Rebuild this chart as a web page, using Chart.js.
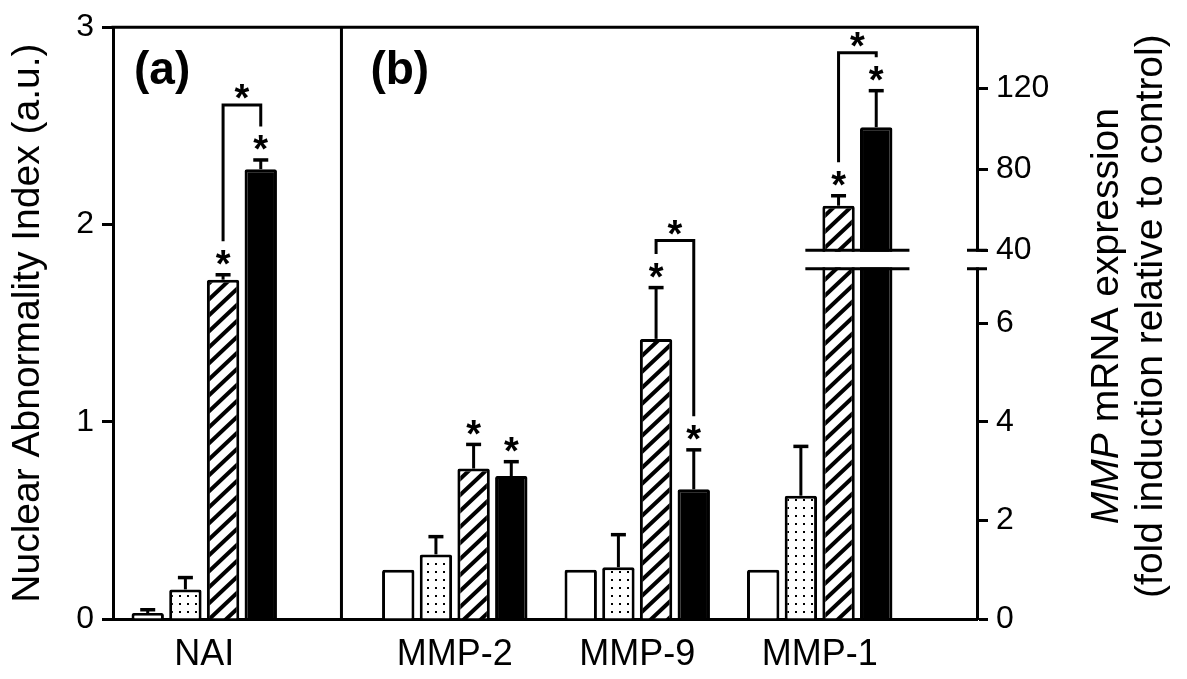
<!DOCTYPE html>
<html>
<head>
<meta charset="utf-8">
<script src="https://cdn.jsdelivr.net/npm/chart.js@4.4.1/dist/chart.umd.min.js"></script>
<style>
  html, body { margin: 0; background: #fff; }
  #caixa { width: 1187px; height: 679px; }
</style>
</head>
<body>
<div id="caixa"><canvas id="grafico"></canvas></div>
<script>
// ---- dados ----
const categories = ['NAI', 'MMP-2', 'MMP-9', 'MMP-1'];
const seriesNames = ['Control', 'Treatment 1', 'Treatment 2', 'Treatment 3'];
// NAI em u.a. (eixo esquerdo), MMPs em fold induction (eixo direito)
const controlMean = [0.03, 1, 1, 1];
const controlErr  = [0.017, 0, 0, 0];
const dotMean     = [0.15, 1.31, 1.05, 2.5];
const dotErr      = [0.06, 0.36, 0.66, 1.0];
const hatchMean   = [1.72, 3.05, 5.68, 62];
const hatchErr    = [0.025, 0.49, 1.04, 4.9];
const blackMean   = [2.28, 2.9, 2.63, 100.7];
const blackErr    = [0.047, 0.29, 0.8, 18];
const naiTicks = [0, 1, 2, 3];
const mmpTicks = [0, 2, 4, 6, 40, 80, 120];
const starred = [false, false, true, true];      // * vs controle, por serie
const bracketCats = ['NAI', 'MMP-9', 'MMP-1'];   // * entre hachurado e preto

const FONTE = '"Liberation Sans", Arial, Helvetica, sans-serif';
Chart.defaults.font.family = FONTE;
Chart.defaults.color = '#000';

// eixo x em categorias, com um espaco extra entre o painel (a) e o (b)
class PanelCategoryScale extends Chart.CategoryScale {
  buildTicks() {
    const ticks = super.buildTicks();
    const p = this.options.panels;
    this._valueRange += p.gap + p.tail;
    return ticks;
  }
  getPixelForValue(value) {
    if (typeof value !== 'number') value = this.parse(value);
    if (value === null) return NaN;
    const p = this.options.panels;
    if (value >= 1) value += p.gap;
    return this.getPixelForDecimal((value - this._startValue) / this._valueRange);
  }
}
PanelCategoryScale.id = 'panelCategory';
PanelCategoryScale.defaults = Chart.CategoryScale.defaults;

// eixo direito com quebra (0-7.1 embaixo, 40-150 em cima)
class BrokenLinearScale extends Chart.LinearScale {
  getPixelForValue(value) {
    const b = this.options.quebra;
    let d;
    if (value <= b.low) d = value / b.lowSpan;
    else d = b.highStart + (value - b.high) / (this.max - b.high) * (1 - b.highStart);
    return this.getPixelForDecimal(d);
  }
}
BrokenLinearScale.id = 'brokenLinear';
BrokenLinearScale.defaults = Chart.LinearScale.defaults;
Chart.register(PanelCategoryScale, BrokenLinearScale);

const canvas = document.getElementById('grafico');
const ctx0 = canvas.getContext('2d');

function pontilhado() {
  const c = document.createElement('canvas');
  c.width = 8; c.height = 8;
  const g = c.getContext('2d');
  g.fillStyle = '#fff'; g.fillRect(0, 0, 8, 8);
  g.fillStyle = '#000'; g.fillRect(3, 3, 2, 2);
  return ctx0.createPattern(c, 'repeat');
}
function hachurado() {
  const w = 17, h = 16;
  const c = document.createElement('canvas');
  c.width = w; c.height = h;
  const g = c.getContext('2d');
  g.fillStyle = '#fff'; g.fillRect(0, 0, w, h);
  g.strokeStyle = '#000'; g.lineWidth = 4;
  for (let k = -1; k <= 1; k++) {
    g.beginPath();
    g.moveTo(-w, h * (2 + k));
    g.lineTo(2 * w, h * (k - 1));
    g.stroke();
  }
  return ctx0.createPattern(c, 'repeat');
}

const means = [controlMean, dotMean, hatchMean, blackMean];
const errs = [controlErr, dotErr, hatchErr, blackErr];
const fills = ['#fff', pontilhado(), hachurado(), '#000'];

const datasets = [];
['y', 'y2'].forEach(function (eixo) {
  means.forEach(function (m, s) {
    const usa = (i) => (i === 0) === (eixo === 'y');
    datasets.push({
      label: seriesNames[s],
      yAxisID: eixo,
      data: m.map((v, i) => usa(i) ? v : null),
      err: errs[s].map((v, i) => usa(i) ? v : null),
      serie: s,
      backgroundColor: fills[s],
      borderColor: '#000',
      borderWidth: 3,
      borderRadius: 2,
      categoryPercentage: 0.826,
      barPercentage: 0.86
    });
  });
});

function capY(chart, di, i) {
  const ds = chart.data.datasets[di];
  return chart.scales[ds.yAxisID].getPixelForValue(ds.data[i] + (ds.err[i] || 0));
}

const anotacoes = {
  id: 'anotacoes',
  afterDatasetsDraw(chart) {
    const ctx = chart.ctx;
    const a = chart.chartArea;
    const x = chart.scales.x;
    const y2 = chart.scales.y2;
    ctx.save();
    ctx.strokeStyle = '#000';
    ctx.fillStyle = '#000';
    ctx.lineWidth = 3;
    ctx.lineCap = 'butt';

    // barras de erro (so para cima)
    chart.data.datasets.forEach(function (ds, di) {
      const meta = chart.getDatasetMeta(di);
      meta.data.forEach(function (el, i) {
        if (ds.data[i] == null || !ds.err[i]) return;
        const yc = capY(chart, di, i);
        ctx.beginPath();
        ctx.moveTo(el.x, el.y);
        ctx.lineTo(el.x, yc);
        ctx.stroke();
        ctx.lineWidth = 3.5;
        ctx.beginPath();
        ctx.moveTo(el.x - 7.5, yc);
        ctx.lineTo(el.x + 7.5, yc);
        ctx.stroke();
        ctx.lineWidth = 3;
      });
    });

    // asteriscos
    ctx.font = 'bold 38px ' + FONTE;
    ctx.textAlign = 'center';
    ctx.textBaseline = 'alphabetic';
    const estrela = (px, centro) => ctx.fillText('*', px, centro + 22);
    const centros = {};
    chart.data.datasets.forEach(function (ds, di) {
      if (!starred[ds.serie]) return;
      const meta = chart.getDatasetMeta(di);
      meta.data.forEach(function (el, i) {
        if (ds.data[i] == null) return;
        const c = capY(chart, di, i) - 19.5;
        centros[di + '_' + i] = c;
        estrela(el.x, c);
      });
    });

    // colchetes entre hachurado e preto
    const subida = [55, 47, 38];
    bracketCats.forEach(function (cat, k) {
      const i = categories.indexOf(cat);
      const base = i === 0 ? 0 : 4;
      const eh = chart.getDatasetMeta(base + 2).data[i];
      const eb = chart.getDatasetMeta(base + 3).data[i];
      const topo = Math.min(capY(chart, base + 2, i), capY(chart, base + 3, i)) - subida[k];
      ctx.beginPath();
      ctx.moveTo(eh.x, centros[(base + 2) + '_' + i] - 14);
      ctx.lineTo(eh.x, topo);
      ctx.lineTo(eb.x, topo);
      ctx.lineTo(eb.x, centros[(base + 3) + '_' + i] - 14);
      ctx.stroke();
      estrela((eh.x + eb.x) / 2, topo - 16);
    });

    // moldura: linha de cima e divisao dos paineis
    const xDiv = x.getPixelForValue(0.752);
    ctx.beginPath();
    ctx.moveTo(a.left - 1.5, a.top);
    ctx.lineTo(a.right + 1.5, a.top);
    ctx.moveTo(xDiv, a.top);
    ctx.lineTo(xDiv, a.bottom);
    ctx.stroke();

    // quebra do eixo direito
    const q = y2.options.quebra;
    const yHi = y2.getPixelForValue(q.high);
    const yLo = y2.getPixelForValue(q.low);
    const i1 = categories.length - 1;
    const eh = chart.getDatasetMeta(6).data[i1];
    const eb = chart.getDatasetMeta(7).data[i1];
    const x0 = eh.x - eh.width / 2 - 17;
    const x1 = eb.x + eb.width / 2 + 17;
    ctx.fillStyle = '#fff';
    ctx.fillRect(x0, yHi + 1.5, x1 - x0, yLo - yHi - 3);
    ctx.fillRect(a.right - 4, yHi + 1.5, 8, yLo - yHi - 3);
    ctx.beginPath();
    ctx.moveTo(x0, yHi); ctx.lineTo(x1, yHi);
    ctx.moveTo(x0, yLo); ctx.lineTo(x1, yLo);
    ctx.moveTo(a.right - 10, yHi); ctx.lineTo(a.right + 10, yHi);
    ctx.moveTo(a.right - 10, yLo); ctx.lineTo(a.right + 10, yLo);
    ctx.stroke();

    // rotulos dos paineis
    ctx.fillStyle = '#000';
    ctx.textAlign = 'left';
    ctx.font = 'bold 46px ' + FONTE;
    ctx.fillText('(a)', a.left + 21, a.top + 57);
    ctx.fillText('(b)', xDiv + 29, a.top + 57);

    // titulo do eixo direito (duas linhas, MMP em italico)
    const cy = (a.top + a.bottom) / 2 - 7;
    const italico = 'italic 39px ' + FONTE;
    const normal = '39px ' + FONTE;
    ctx.save();
    ctx.translate(a.right + 141, cy);
    ctx.rotate(-Math.PI / 2);
    ctx.font = italico;
    const w1 = ctx.measureText('MMP').width;
    ctx.font = normal;
    const w2 = ctx.measureText(' mRNA expression').width;
    const px = -(w1 + w2) / 2;
    ctx.textAlign = 'left';
    ctx.font = italico;
    ctx.fillText('MMP', px, 0);
    ctx.font = normal;
    ctx.fillText(' mRNA expression', px + w1, 0);
    ctx.restore();

    ctx.save();
    ctx.translate(a.right + 185, cy);
    ctx.rotate(-Math.PI / 2);
    ctx.font = normal;
    ctx.textAlign = 'center';
    ctx.fillText('(fold induction relative to control)', 0, 0);
    ctx.restore();

    ctx.restore();
  }
};

new Chart(canvas, {
  type: 'bar',
  data: { labels: categories, datasets: datasets },
  options: {
    responsive: true,
    maintainAspectRatio: false,
    animation: false,
    events: [],
    skipNull: true,
    layout: { padding: { top: 22, left: 0, right: 0, bottom: 0 } },
    plugins: { legend: { display: false }, tooltip: { enabled: false } },
    scales: {
      x: {
        type: 'panelCategory',
        offset: true,
        panels: { gap: 0.373, tail: 0.362 },
        grid: { display: false, drawTicks: false },
        border: { display: true, width: 3, color: '#000' },
        ticks: { font: { size: 36 }, padding: 14, color: '#000' },
        afterFit: s => { s.height = 60; }
      },
      y: {
        type: 'linear',
        position: 'left',
        min: 0, max: 3,
        afterBuildTicks: s => { s.ticks = naiTicks.map(v => ({ value: v })); },
        grid: { drawOnChartArea: false, drawTicks: true, tickLength: 11, tickWidth: 3, tickColor: '#000' },
        border: { width: 3, color: '#000' },
        ticks: { font: { size: 32 }, padding: 8, color: '#000' },
        title: {
          display: true,
          text: 'Nuclear Abnormality Index (a.u.)',
          font: { size: 39 },
          color: '#000',
          padding: { top: 5, bottom: 0 }
        },
        afterFit: s => { s.width = 113; }
      },
      y2: {
        type: 'brokenLinear',
        position: 'right',
        min: 0, max: 150,
        quebra: { low: 7.1, lowSpan: 12, high: 40, highStart: 0.623 },
        afterBuildTicks: s => { s.ticks = mmpTicks.map(v => ({ value: v })); },
        grid: { drawOnChartArea: false, drawTicks: true, tickLength: 11, tickWidth: 3, tickColor: '#000' },
        border: { width: 3, color: '#000' },
        ticks: { font: { size: 32 }, padding: 8, color: '#000', autoSkip: false },
        afterFit: s => { s.width = 210; }
      }
    }
  },
  plugins: [anotacoes]
});
</script>
</body>
</html>
